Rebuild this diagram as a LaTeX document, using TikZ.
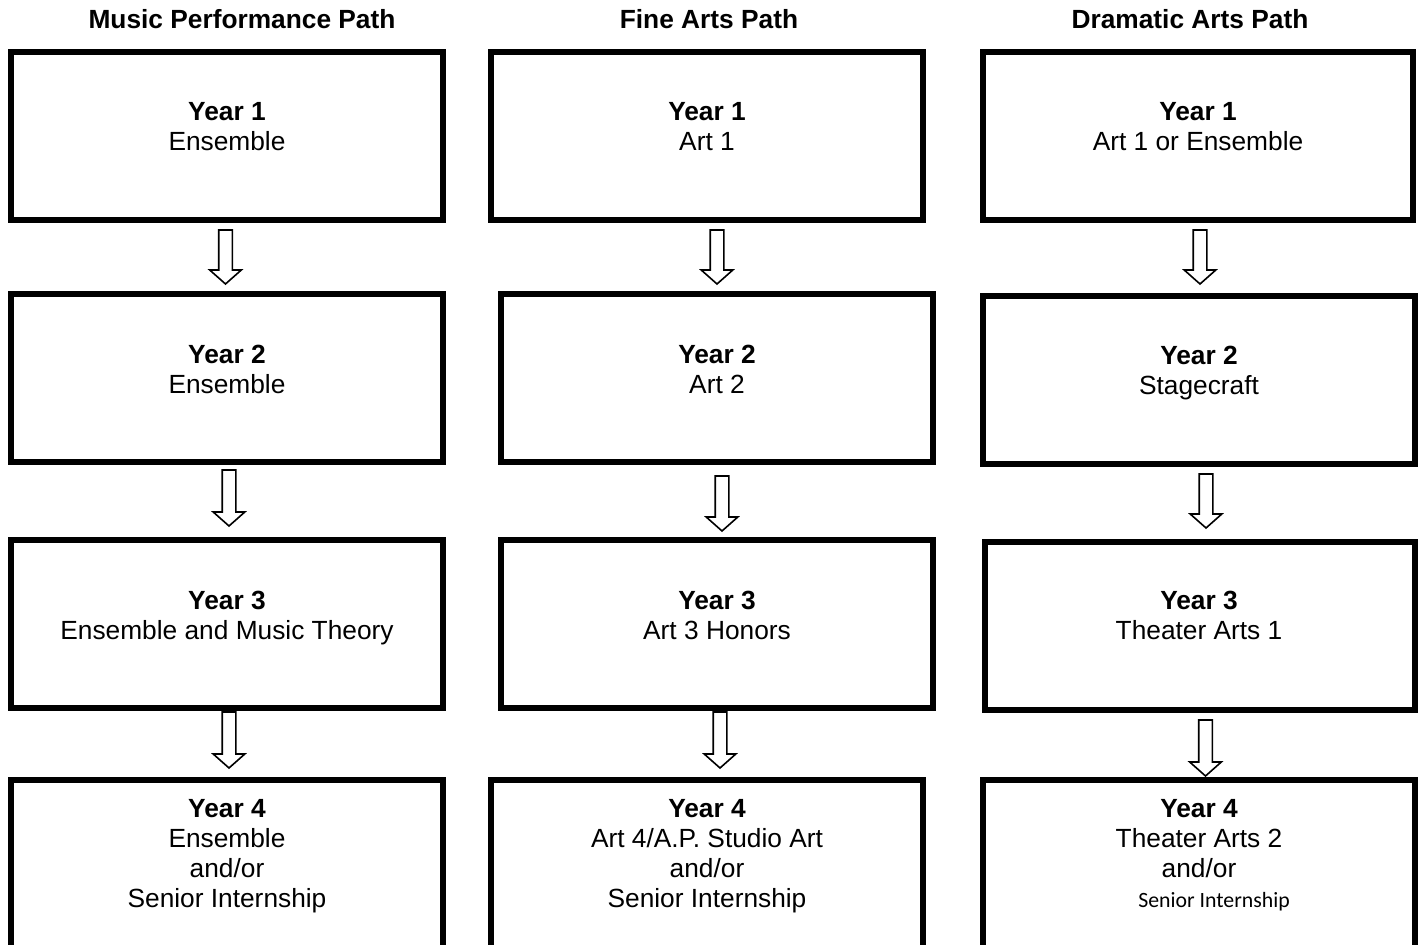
\documentclass[tikz,border=0pt]{standalone}
\usepackage{fontspec}
\setmainfont{Liberation Sans}
\newfontfamily\calfont{Carlito}
\tikzset{
  box/.style={draw, line width=3pt, rectangle, inner sep=0pt, minimum width=216pt, minimum height=84pt},
  boxtext/.style={anchor=north, inner sep=0pt, align=center, font=\fontsize{13.15pt}{15pt}\selectfont},
  headtext/.style={anchor=base, inner sep=0pt, font=\fontsize{13.15pt}{15pt}\selectfont\bfseries},
  arrowline/.style={draw=black, fill=white, line width=0.8pt, line join=miter},
  pics/blockarr/.style={code={\draw[arrowline] (-6.8,0) -- (6.8,0) -- (6.8,#1-14) -- (15.8,#1-14) -- (0,#1) -- (-15.8,#1-14) -- (-6.8,#1-14) -- cycle;}}
}
\begin{document}
\begin{tikzpicture}[x=0.5pt, y=-0.5pt]
\useasboundingbox (0,0) rectangle (1423,945);
\clip (0,0) rectangle (1423,945);
\fill[white] (0,0) rectangle (1423,945);

% headers
\node[headtext] (h1) at (242,29) {Music Performance Path};
\node[headtext] (h2) at (709,29) {Fine Arts Path};
\node[headtext] (h3) at (1190,29) {Dramatic Arts Path};

% row 1
\node[box] (m1) at (227,136) {};
\node[box] (f1) at (707,136) {};
\node[box, minimum width=215pt] (d1) at (1198,136) {};
% row 2
\node[box] (m2) at (227,378) {};
\node[box] (f2) at (717,378) {};
\node[box] (d2) at (1199,380) {};
% row 3
\node[box] (m3) at (227,624) {};
\node[box] (f3) at (717,624) {};
\node[box, minimum width=215pt] (d3) at (1199.5,626) {};
% row 4 (cut off by the page)
\node[box, minimum height=90pt] (m4) at (227,870) {};
\node[box, minimum height=90pt] (f4) at (707,870) {};
\node[box, minimum height=90pt] (d4) at (1199,870) {};

% texts
\node[boxtext] (m1t) at (227,102.5) {\textbf{Year 1}\\Ensemble};
\node[boxtext] (f1t) at (707,102.5) {\textbf{Year 1}\\Art 1};
\node[boxtext] (d1t) at (1198,102.5) {\textbf{Year 1}\\Art 1 or Ensemble};
\node[boxtext] (m2t) at (227,344.5) {\textbf{Year 2}\\Ensemble};
\node[boxtext] (f2t) at (717,344.5) {\textbf{Year 2}\\Art 2};
\node[boxtext] (d2t) at (1199,345.5) {\textbf{Year 2}\\Stagecraft};
\node[boxtext] (m3t) at (227,590.5) {\textbf{Year 3}\\Ensemble and Music Theory};
\node[boxtext] (f3t) at (717,590.5) {\textbf{Year 3}\\Art 3 Honors};
\node[boxtext] (d3t) at (1199,590.5) {\textbf{Year 3}\\Theater Arts 1};
\node[boxtext] (m4t) at (227,799.5) {\textbf{Year 4}\\Ensemble\\and/or\\Senior Internship};
\node[boxtext] (f4t) at (707,799.5) {\textbf{Year 4}\\Art 4/A.P. Studio Art\\and/or\\Senior Internship};
\node[boxtext] (d4t) at (1199,799.5) {\textbf{Year 4}\\Theater Arts 2\\and/or\\\hspace*{15pt}{\calfont\fontsize{10.9pt}{15pt}\selectfont Senior Internship}};

% block arrows
\coordinate (am1) at (225.5,230);
\coordinate (af1) at (717,230);
\coordinate (ad1) at (1200,230);
\coordinate (am2) at (229,470);
\coordinate (af2) at (722,476);
\coordinate (ad2) at (1206,474);
\coordinate (am3) at (229,712);
\coordinate (af3) at (720,712);
\coordinate (ad3) at (1205.5,720);
\pic at (am1) {blockarr=54};
\pic at (af1) {blockarr=54};
\pic at (ad1) {blockarr=54};
\pic at (am2) {blockarr=56};
\pic at (af2) {blockarr=55};
\pic at (ad2) {blockarr=54};
\pic at (am3) {blockarr=56};
\pic at (af3) {blockarr=56};
\pic at (ad3) {blockarr=56};
\end{tikzpicture}
\end{document}
